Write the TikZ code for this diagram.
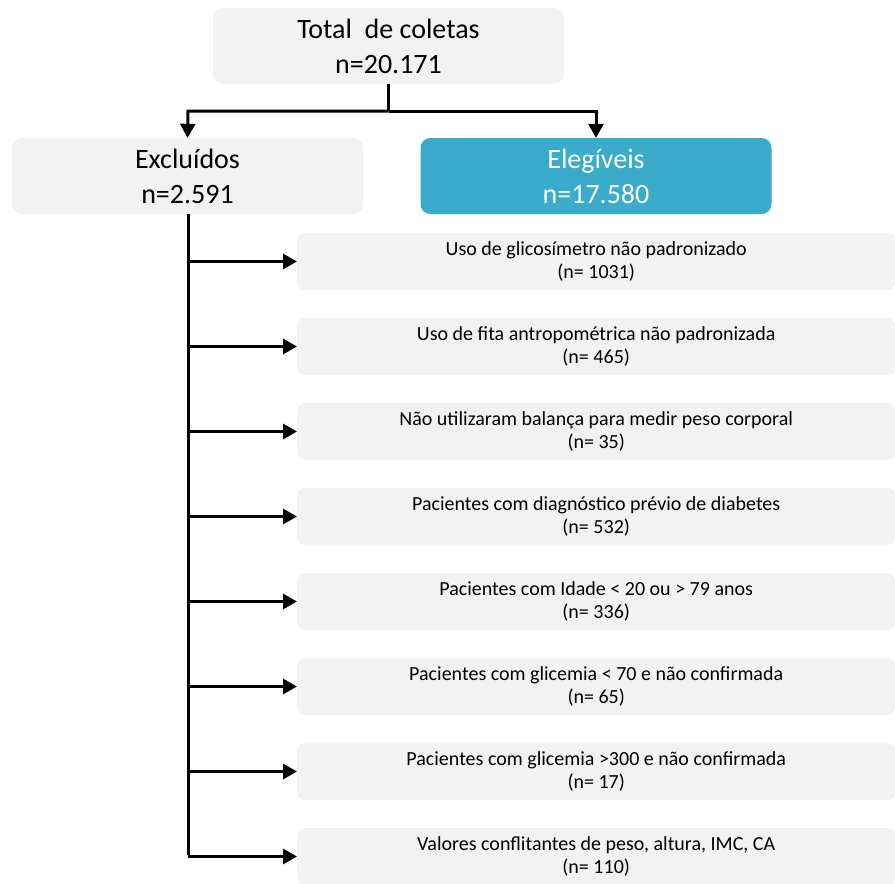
\documentclass[tikz,border=0pt]{standalone}
\usepackage{fontspec}
\setmainfont{Carlito}
\usetikzlibrary{arrows.meta}
\definecolor{boxgray}{HTML}{F2F2F2}
\definecolor{boxblue}{HTML}{38ACCA}
\begin{document}
\begin{tikzpicture}[x=1pt,y=-1pt,
  bigbox/.style={fill=boxgray,rounded corners=10pt,minimum width=351pt,minimum height=76pt,align=center,font=\fontsize{28}{35}\selectfont,inner sep=0pt},
  smallbox/.style={fill=boxgray,rounded corners=8pt,minimum width=598pt,minimum height=57pt,align=center,font=\fontsize{20}{23.5}\selectfont,inner sep=0pt,anchor=west},
  conn/.style={line width=3pt},
  arr/.style={conn,-{Triangle[length=14pt,width=15pt]}}]
\useasboundingbox (0,0) rectangle (895,884);
\node[bigbox] (total) at (388.5,46) {Total\ \ de coletas\\n=20.171};
\node[bigbox] (excl) at (187.5,176) {Excluídos\\n=2.591};
\node[bigbox,fill=boxblue,text=white] (eleg) at (596,176) {Elegíveis\\n=17.580};
\coordinate (split) at (388.5,111);
\coordinate (sl) at (188,111);
\coordinate (sr) at (596,111);
\draw[conn] (total.south) -- (split);
\draw[arr] (split) -- (sl) -- (excl.north);
\draw[arr] (split) -- (sr) -- (eleg.north);
\foreach \i/\t/\n in {0/{Uso de glicosímetro não padronizado}/{1031},
  1/{Uso de fita antropométrica não padronizada}/{465},
  2/{Não utilizaram balança para medir peso corporal}/{35},
  3/{Pacientes com diagnóstico prévio de diabetes}/{532},
  4/{Pacientes com Idade < 20 ou > 79 anos}/{336},
  5/{Pacientes com glicemia < 70 e não confirmada}/{65},
  6/{Pacientes com glicemia >300 e não confirmada}/{17},
  7/{Valores conflitantes de peso, altura, IMC, CA}/{110}}{
  \node[smallbox] (b\i) at (297,261.5+85*\i) {\t\\(n= \n)};
  \coordinate (t\i) at (188,261.5+85*\i);
  \draw[arr] (t\i) -- (b\i.west);
}
\draw[conn] (excl.south -| t0) -- ([yshift=1.5pt]t7);
\end{tikzpicture}
\end{document}
